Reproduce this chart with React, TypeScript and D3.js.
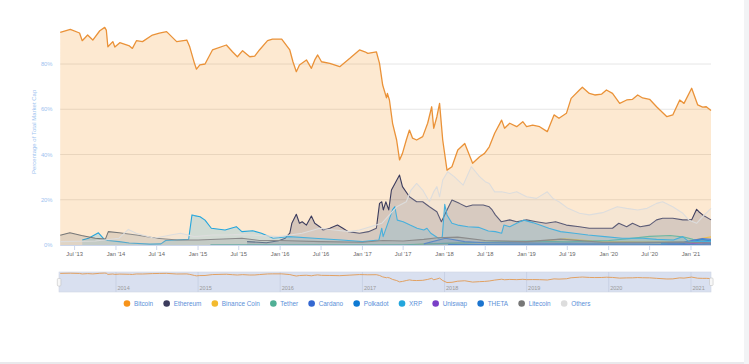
import React, { useMemo } from 'react';
import * as d3 from 'd3';

type Pt = [string, number];

// % of total crypto market cap
const bitcoin: Pt[] = [
  ['2013-04-28', 94.0], ['2013-06-12', 95.3], ['2013-07-23', 93.7], ['2013-08-04', 90.3], ['2013-08-28', 92.8],
  ['2013-09-20', 90.6], ['2013-10-21', 94.7], ['2013-11-12', 96.2], ['2013-11-19', 95.0], ['2013-11-26', 87.6],
  ['2013-12-18', 89.9], ['2013-12-27', 87.5], ['2014-01-18', 89.4], ['2014-03-02', 88.0], ['2014-03-15', 86.9],
  ['2014-04-02', 90.3], ['2014-04-29', 89.9], ['2014-06-12', 92.8], ['2014-07-13', 93.6], ['2014-08-14', 94.3],
  ['2014-09-28', 89.9], ['2014-11-12', 90.6], ['2014-11-25', 87.6], ['2014-12-16', 80.3], ['2014-12-25', 77.7],
  ['2015-01-09', 79.6], ['2015-02-01', 80.0], ['2015-03-06', 86.2], ['2015-05-07', 88.4], ['2015-06-03', 85.4],
  ['2015-06-25', 83.2], ['2015-07-18', 85.9], ['2015-08-19', 83.2], ['2015-09-10', 83.5], ['2015-10-01', 86.2],
  ['2015-11-06', 90.3], ['2015-11-28', 91.0], ['2016-01-08', 91.0], ['2016-02-13', 86.2], ['2016-02-27', 81.0],
  ['2016-03-13', 76.6], ['2016-03-27', 79.6], ['2016-04-27', 81.8], ['2016-05-19', 78.1], ['2016-06-03', 81.8],
  ['2016-06-16', 84.0], ['2016-07-03', 81.0], ['2016-08-09', 80.3], ['2016-09-22', 78.8], ['2016-11-06', 82.5],
  ['2016-12-19', 86.2], ['2017-01-12', 85.4], ['2017-01-25', 84.7], ['2017-03-04', 85.4], ['2017-03-18', 80.3],
  ['2017-04-01', 70.7], ['2017-04-18', 65.0], ['2017-04-22', 67.0], ['2017-05-01', 64.1], ['2017-05-15', 53.8],
  ['2017-06-02', 46.4], ['2017-06-15', 37.6], ['2017-06-28', 40.5], ['2017-07-15', 46.4], ['2017-07-29', 50.8],
  ['2017-08-12', 47.2], ['2017-08-30', 46.4], ['2017-09-26', 47.9], ['2017-10-18', 53.8], ['2017-11-05', 61.1],
  ['2017-11-14', 51.6], ['2017-11-28', 56.7], ['2017-12-10', 62.6], ['2017-12-24', 46.4], ['2018-01-12', 33.1],
  ['2018-02-03', 34.6], ['2018-03-01', 42.0], ['2018-04-01', 44.9], ['2018-05-06', 36.1], ['2018-06-06', 39.0],
  ['2018-06-28', 40.5], ['2018-07-19', 43.4], ['2018-08-12', 49.4], ['2018-09-12', 55.2], ['2018-09-25', 51.6],
  ['2018-10-18', 53.8], ['2018-11-18', 52.3], ['2018-12-15', 54.5], ['2019-01-01', 52.3], ['2019-01-28', 53.0],
  ['2019-02-28', 52.3], ['2019-04-03', 50.1], ['2019-05-03', 57.5], ['2019-05-25', 56.0], ['2019-06-27', 58.2],
  ['2019-07-18', 64.8], ['2019-08-24', 68.5], ['2019-09-06', 69.7], ['2019-10-07', 67.0], ['2019-10-31', 66.3],
  ['2019-12-01', 66.7], ['2019-12-22', 68.5], ['2020-01-18', 67.0], ['2020-02-19', 62.6], ['2020-03-21', 64.1],
  ['2020-04-16', 64.4], ['2020-05-09', 66.3], ['2020-05-31', 65.0], ['2020-07-01', 64.4], ['2020-08-01', 61.1],
  ['2020-09-16', 56.7], ['2020-10-12', 57.5], ['2020-11-12', 64.1], ['2020-12-01', 62.6], ['2021-01-04', 69.3],
  ['2021-01-31', 61.9], ['2021-02-22', 60.9], ['2021-03-10', 61.1], ['2021-03-31', 59.4],
];

const ethereum: Pt[] = [
  ['2015-08-07', 1.5], ['2015-11-01', 1.0], ['2015-12-25', 1.9], ['2016-01-24', 3.0], ['2016-02-13', 5.2],
  ['2016-02-22', 9.6], ['2016-03-13', 13.6], ['2016-03-27', 9.6], ['2016-04-08', 10.3], ['2016-04-27', 8.8],
  ['2016-05-19', 12.8], ['2016-06-03', 9.6], ['2016-06-25', 8.1], ['2016-07-10', 6.6], ['2016-08-09', 7.4],
  ['2016-09-12', 8.8], ['2016-10-06', 7.4], ['2016-10-30', 5.9], ['2016-12-19', 5.2], ['2017-01-28', 5.9],
  ['2017-03-04', 7.4], ['2017-03-18', 18.4], ['2017-03-28', 19.1], ['2017-04-04', 15.5], ['2017-04-15', 19.1],
  ['2017-04-28', 15.5], ['2017-05-10', 24.3], ['2017-06-15', 30.9], ['2017-06-28', 25.8], ['2017-07-29', 21.3],
  ['2017-08-30', 19.1], ['2017-09-26', 19.1], ['2017-10-26', 16.9], ['2017-11-28', 14.7], ['2017-12-18', 10.3],
  ['2018-01-12', 15.5], ['2018-02-03', 19.9], ['2018-03-08', 18.4], ['2018-04-08', 16.9], ['2018-05-06', 17.7],
  ['2018-06-22', 17.7], ['2018-07-19', 16.9], ['2018-08-01', 15.5], ['2018-08-15', 13.3], ['2018-09-10', 10.3],
  ['2018-10-18', 11.1], ['2018-11-18', 10.3], ['2019-01-01', 11.1], ['2019-02-14', 10.3], ['2019-03-28', 9.6],
  ['2019-05-10', 10.3], ['2019-06-27', 8.8], ['2019-08-24', 8.1], ['2019-10-07', 7.4], ['2019-11-20', 7.4],
  ['2020-01-18', 7.4], ['2020-02-15', 9.6], ['2020-03-21', 8.1], ['2020-04-16', 9.6], ['2020-05-20', 8.1],
  ['2020-07-01', 8.8], ['2020-08-01', 11.1], ['2020-08-28', 11.8], ['2020-10-12', 11.8], ['2020-11-26', 11.1],
  ['2021-01-04', 11.1], ['2021-01-26', 15.8], ['2021-02-05', 14.7], ['2021-02-22', 13.3], ['2021-03-31', 11.1],
];

const binanceCoin: Pt[] = [
  ['2017-07-25', 0.1], ['2018-01-10', 0.7], ['2018-07-01', 1.2], ['2019-01-01', 1.2], ['2019-06-20', 2.7],
  ['2019-12-01', 1.5], ['2020-06-01', 1.3], ['2020-12-01', 1.3], ['2021-02-20', 3.0], ['2021-03-31', 3.6],
];

const tether: Pt[] = [
  ['2015-02-25', 0.05], ['2017-01-01', 0.1], ['2017-07-01', 0.1], ['2018-01-01', 0.7], ['2018-07-01', 1.2],
  ['2019-01-01', 1.8], ['2019-07-01', 1.4], ['2020-01-01', 2.0], ['2020-04-01', 2.8], ['2020-07-01', 3.8],
  ['2020-10-01', 4.2], ['2020-12-01', 3.5], ['2021-01-10', 2.5], ['2021-03-31', 2.0],
];

const cardano: Pt[] = [
  ['2017-10-01', 0.5], ['2018-01-05', 3.0], ['2018-04-01', 1.5], ['2018-07-01', 1.0], ['2019-06-01', 0.8],
  ['2020-06-01', 0.9], ['2020-12-01', 1.3], ['2021-02-20', 2.8], ['2021-03-31', 2.5],
];

const polkadot: Pt[] = [
  ['2020-08-20', 0.8], ['2020-10-01', 0.9], ['2020-12-01', 0.7], ['2021-02-20', 2.5], ['2021-03-31', 1.8],
];

const xrp: Pt[] = [
  ['2013-08-04', 2.2], ['2013-09-01', 3.0], ['2013-10-15', 5.4], ['2013-11-10', 2.5], ['2013-11-26', 2.0],
  ['2014-01-15', 1.5], ['2014-03-01', 0.9], ['2014-06-01', 0.4], ['2014-07-20', 0.5], ['2014-08-10', 2.0],
  ['2014-11-20', 2.5], ['2014-12-05', 13.3], ['2014-12-16', 13.0], ['2015-01-10', 12.5], ['2015-02-01', 11.0],
  ['2015-03-01', 7.4], ['2015-05-01', 6.6], ['2015-06-20', 8.1], ['2015-07-15', 5.9], ['2015-09-01', 6.3],
  ['2015-10-10', 5.2], ['2015-12-01', 3.0], ['2016-02-10', 3.7], ['2016-06-01', 3.0], ['2016-10-01', 2.2],
  ['2017-01-01', 1.5], ['2017-03-15', 2.2], ['2017-03-28', 7.4], ['2017-04-03', 3.7], ['2017-05-15', 15.5],
  ['2017-05-25', 16.9], ['2017-06-05', 11.0], ['2017-07-01', 10.3], ['2017-08-01', 8.8], ['2017-09-01', 7.4],
  ['2017-10-01', 6.6], ['2017-10-15', 7.4], ['2017-11-01', 5.2], ['2017-12-05', 3.0], ['2017-12-22', 3.5],
  ['2018-01-02', 18.0], ['2018-01-12', 13.3], ['2018-02-03', 9.6], ['2018-03-01', 8.8], ['2018-04-15', 8.1],
  ['2018-06-01', 7.8], ['2018-07-15', 6.2], ['2018-08-15', 5.9], ['2018-09-12', 5.2], ['2018-09-22', 8.8],
  ['2018-10-18', 8.1], ['2018-11-18', 9.6], ['2018-12-20', 11.0], ['2019-01-28', 9.9], ['2019-03-01', 8.8],
  ['2019-04-10', 7.4], ['2019-06-01', 5.9], ['2019-08-01', 5.2], ['2019-10-01', 4.4], ['2019-12-15', 3.7],
  ['2020-03-01', 3.0], ['2020-06-01', 3.0], ['2020-08-01', 2.5], ['2020-10-15', 2.2], ['2020-11-25', 3.7],
  ['2020-12-22', 1.5], ['2021-03-31', 1.5],
];

const uniswap: Pt[] = [
  ['2020-09-17', 0.3], ['2020-12-01', 0.3], ['2021-02-20', 1.0], ['2021-03-31', 0.9],
];

const theta: Pt[] = [
  ['2018-01-17', 0.2], ['2019-01-01', 0.05], ['2020-06-01', 0.05], ['2021-02-20', 0.3], ['2021-03-31', 0.5],
];

const litecoin: Pt[] = [
  ['2013-04-28', 4.3], ['2013-06-10', 5.4], ['2013-08-01', 4.2], ['2013-10-01', 3.0], ['2013-11-15', 2.6],
  ['2013-11-28', 5.9], ['2014-01-15', 5.4], ['2014-04-01', 4.4], ['2014-07-01', 3.0], ['2014-10-01', 2.2],
  ['2015-01-01', 2.2], ['2015-07-15', 3.0], ['2015-10-01', 2.0], ['2016-01-01', 2.0], ['2016-07-01', 1.5],
  ['2017-01-01', 1.2], ['2017-04-01', 2.0], ['2017-07-01', 1.8], ['2017-10-01', 2.5], ['2017-12-01', 3.2],
  ['2018-03-01', 3.5], ['2018-07-01', 2.0], ['2019-01-01', 1.5], ['2019-06-01', 2.6], ['2019-12-01', 1.2],
  ['2020-06-01', 1.2], ['2020-12-01', 1.3], ['2021-03-31', 0.9],
];

const others: Pt[] = [
  ['2013-04-28', 1.5], ['2013-10-01', 1.8], ['2014-01-15', 3.0], ['2014-02-25', 6.9], ['2014-04-01', 5.2],
  ['2014-06-20', 3.0], ['2014-09-01', 4.4], ['2014-10-15', 5.2], ['2014-12-16', 3.7], ['2015-03-06', 4.4],
  ['2015-05-07', 4.4], ['2015-07-04', 4.7], ['2015-09-01', 4.4], ['2015-12-25', 3.7], ['2016-02-13', 4.4],
  ['2016-04-08', 5.2], ['2016-06-25', 7.4], ['2016-08-30', 6.6], ['2016-11-06', 5.9], ['2016-12-19', 6.6],
  ['2017-03-28', 9.6], ['2017-06-02', 16.9], ['2017-07-15', 19.1], ['2017-08-05', 24.3], ['2017-08-30', 27.2],
  ['2017-09-26', 24.3], ['2017-10-26', 19.1], ['2017-11-14', 23.5], ['2017-11-28', 25.8], ['2017-12-10', 21.3],
  ['2017-12-24', 28.7], ['2018-01-15', 32.4], ['2018-02-13', 30.2], ['2018-03-25', 26.5], ['2018-04-30', 34.6],
  ['2018-06-06', 30.2], ['2018-07-01', 28.0], ['2018-07-19', 27.2], ['2018-08-12', 23.5], ['2018-09-12', 23.5],
  ['2018-10-18', 22.8], ['2018-11-18', 23.5], ['2019-01-01', 21.3], ['2019-02-14', 20.6], ['2019-04-03', 23.5],
  ['2019-04-28', 20.6], ['2019-05-25', 19.1], ['2019-07-04', 16.2], ['2019-08-24', 14.0], ['2019-10-07', 13.3],
  ['2019-12-05', 14.3], ['2020-02-08', 16.9], ['2020-03-21', 16.2], ['2020-05-09', 15.5], ['2020-06-20', 16.2],
  ['2020-08-01', 18.4], ['2020-08-28', 19.1], ['2020-10-12', 16.9], ['2020-11-26', 14.0], ['2020-12-22', 11.1],
  ['2021-01-26', 9.6], ['2021-02-22', 12.5], ['2021-03-31', 16.2],
];

const seriesNames = ['Bitcoin', 'Ethereum', 'Binance Coin', 'Tether', 'Cardano', 'Polkadot', 'XRP', 'Uniswap', 'THETA', 'Litecoin', 'Others'];
const seriesData = [bitcoin, ethereum, binanceCoin, tether, cardano, polkadot, xrp, uniswap, theta, litecoin, others];
const seriesColors = ['#f7931a', '#3c3c5d', '#f3ba2f', '#50af95', '#3468d1', '#0e7ad3', '#23a6dd', '#7a3fc7', '#1b74cf', '#777777', '#dddddd'];
const yTicks = [0, 20, 40, 60, 80];

const W = 749;
const H = 364;
const FONT = '"Liberation Sans", Arial, Helvetica, sans-serif';
const parse = d3.utcParse('%Y-%m-%d');

export default function App() {
  const margin = { left: 60.2, right: 711, top: 18.75, bottom: 245 };
  const x = d3.scaleUtc().domain([parse('2013-04-28')!, parse('2021-03-31')!]).range([margin.left, margin.right]);
  const y = d3.scaleLinear().domain([0, 100]).range([margin.bottom, margin.top]);
  const navY = d3.scaleLinear().domain([0, 100]).range([287.5, 272.5]);

  const series = seriesNames.map((name, i) => ({
    name,
    color: seriesColors[i],
    pts: seriesData[i].map(([d, v]) => ({ d: parse(d)!, v })),
  }));

  const area = d3.area<{ d: Date; v: number }>().x((p) => x(p.d)).y0(y(0)).y1((p) => y(p.v));
  const line = d3.line<{ d: Date; v: number }>().x((p) => x(p.d)).y((p) => y(p.v));
  const navLine = d3.line<{ d: Date; v: number }>().x((p) => x(p.d)).y((p) => navY(p.v));

  const ticks = d3.utcMonth.every(6)!.range(x.domain()[0], x.domain()[1]);
  const fmt = (d: Date) => `${d3.utcFormat('%b')(d)} '${d3.utcFormat('%y')(d)}`;
  const years = d3.utcYear.range(x.domain()[0], x.domain()[1]);

  // legend layout from measured text widths
  const legend = useMemo(() => {
    const ctx = document.createElement('canvas').getContext('2d')!;
    ctx.font = `6.4px ${FONT}`;
    const items = seriesNames.map((n) => ({ n, w: ctx.measureText(n).width }));
    const total = items.reduce((s, it) => s + 7 + it.w, 0) + (items.length - 1) * 13.5 - 7 + 3.3 + 7;
    let cx = 357 - total / 2 + 3.3;
    return items.map((it, i) => {
      const o = { name: it.n, cx, color: seriesColors[i] };
      cx += 7 + it.w + 13.5;
      return o;
    });
  }, []);

  return (
    <svg width={W} height={H} style={{ position: 'absolute', left: 0, top: 0, fontFamily: FONT }}>
      <rect width={W} height={H} fill="#fff" />
      <rect x={744} y={0} width={5} height={H} fill="#f2f3f5" />
      <rect x={0} y={362} width={744} height={2} fill="#e9e9ec" />

      {yTicks.slice(1).map((t) => (
        <line key={t} x1={margin.left} x2={margin.right} y1={y(t)} y2={y(t)} stroke="#e6e6e6" strokeWidth={1} />
      ))}

      {series.map((s) => (
        <g key={s.name}>
          <path d={area(s.pts)!} fill={s.color} fillOpacity={0.2} />
          <path
            d={line(s.pts)!}
            fill="none"
            stroke={s.name === 'Bitcoin' ? '#ea9238' : s.color}
            strokeWidth={s.name === 'Bitcoin' ? 1.3 : 1.1}
            strokeLinejoin="round"
          />
        </g>
      ))}

      <line x1={margin.left} x2={margin.right} y1={y(0) + 0.5} y2={y(0) + 0.5} stroke="#ccd6eb" />
      {ticks.map((t) => (
        <g key={+t}>
          <line x1={x(t)} x2={x(t)} y1={y(0)} y2={y(0) + 5} stroke="#ccd6eb" />
          <text x={x(t)} y={256} fontSize={5.8} fill="#666" textAnchor="middle">{fmt(t)}</text>
        </g>
      ))}

      {yTicks.map((t) => (
        <text key={t} x={52.5} y={y(t) + 2} fontSize={5.8} fill="#9ec3ef" textAnchor="end">{t}%</text>
      ))}
      <text transform={`translate(35.5,${(margin.top + margin.bottom) / 2}) rotate(-90)`} fontSize={6} fill="#9ec3ef" textAnchor="middle">
        Percentage of Total Market Cap
      </text>

      {/* navigator */}
      <rect x={59} y={272} width={652} height={20} fill="#d9e0f0" stroke="#cfd5e3" strokeWidth={0.6} />
      {years.map((yr) => (
        <g key={+yr}>
          <line x1={x(yr)} x2={x(yr)} y1={272} y2={292} stroke="#c3cbdf" strokeWidth={0.7} />
          <text x={x(yr) + 1.5} y={290} fontSize={5.5} fill="#9a9a9a">{d3.utcFormat('%Y')(yr)}</text>
        </g>
      ))}
      <path d={navLine(series[0].pts)!} fill="none" stroke="#e29a52" strokeWidth={0.9} />
      <rect x={57.3} y={278.5} width={3.6} height={7.5} rx={1} fill="#f7f7f7" stroke="#bbb" strokeWidth={0.5} />
      <rect x={709.5} y={278} width={3.6} height={7.5} rx={1} fill="#f7f7f7" stroke="#bbb" strokeWidth={0.5} />

      {legend.map((l) => (
        <g key={l.name}>
          <circle cx={l.cx} cy={303.5} r={3.3} fill={l.color} />
          <text x={l.cx + 7} y={305.8} fontSize={6.4} fill="#5b90d8">{l.name}</text>
        </g>
      ))}
    </svg>
  );
}
